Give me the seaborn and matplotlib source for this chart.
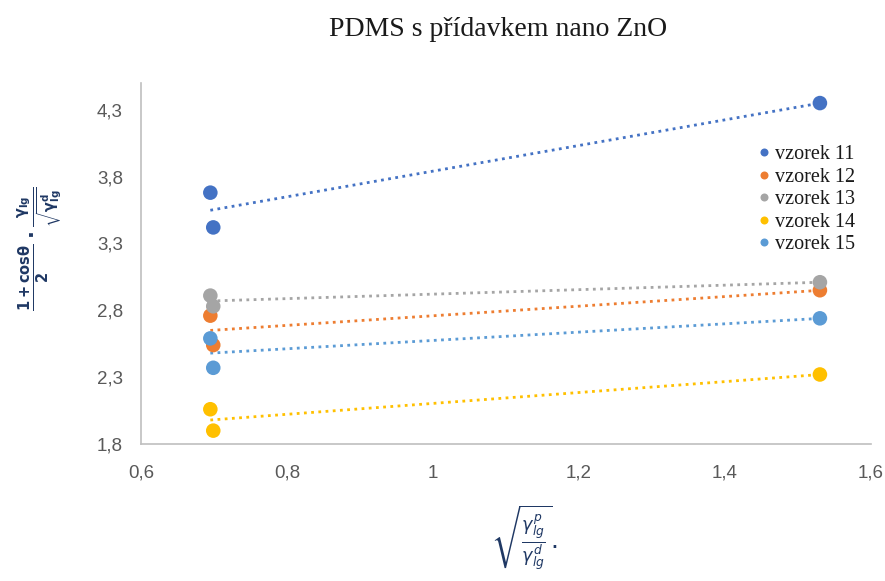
import matplotlib
matplotlib.use("Agg")
import matplotlib.pyplot as plt
import seaborn as sns
import pandas as pd
import numpy as np

# ---- data ----
samples = ["vzorek 11", "vzorek 12", "vzorek 13", "vzorek 14", "vzorek 15"]
x_vals = [0.695, 0.699, 1.530]
s11 = [3.68, 3.42, 4.35]
s12 = [2.76, 2.54, 2.95]
s13 = [2.91, 2.83, 3.01]
s14 = [2.06, 1.90, 2.32]
s15 = [2.59, 2.37, 2.74]
series = [s11, s12, s13, s14, s15]
colors = ["#4472C4", "#ED7D31", "#A5A5A5", "#FFC000", "#5B9BD5"]
x_ticks = [0.6, 0.8, 1.0, 1.2, 1.4, 1.6]
x_tick_labels = ["0,6", "0,8", "1", "1,2", "1,4", "1,6"]
y_ticks = [1.8, 2.3, 2.8, 3.3, 3.8, 4.3]
y_tick_labels = ["1,8", "2,3", "2,8", "3,3", "3,8", "4,3"]
title = "PDMS s přídavkem nano ZnO"

rows = []
for name, vals in zip(samples, series):
    for x, y in zip(x_vals, vals):
        rows.append({"x": x, "y": y, "vzorek": name})
df = pd.DataFrame(rows)

sns.set_theme(style="white")
plt.rcParams["font.family"] = ["Liberation Sans", "DejaVu Sans"]

fig = plt.figure(figsize=(8.85, 5.81), dpi=100)
ax = fig.add_axes([0.1593, 0.2358, 0.8249, 0.6213])

for name, col in zip(samples, colors):
    sub = df[df["vzorek"] == name]
    sns.regplot(data=sub, x="x", y="y", ax=ax, ci=None, truncate=True,
                scatter=False, color=col,
                line_kws={"linestyle": (0, (1, 1.6)), "linewidth": 2.0})

sns.scatterplot(data=df, x="x", y="y", hue="vzorek", palette=colors,
                hue_order=samples, s=110, edgecolor="none", ax=ax, zorder=5)

ax.set_xlim(0.6, 1.6)
ax.set_ylim(1.8, 4.5)
ax.set_xticks(x_ticks)
ax.set_xticklabels(x_tick_labels)
ax.set_yticks(y_ticks)
ax.set_yticklabels(y_tick_labels)
ax.tick_params(axis="both", colors="#595959", labelsize=13.5, length=0)
ax.tick_params(axis="y", pad=13)
ax.tick_params(axis="x", pad=15)
for lab in ax.get_xticklabels() + ax.get_yticklabels():
    lab.set_color("#595959")

for side in ["top", "right"]:
    ax.spines[side].set_visible(False)
for side in ["left", "bottom"]:
    ax.spines[side].set_color("#BFBFBF")
    ax.spines[side].set_linewidth(1.2)

ax.set_xlabel("")
ax.set_ylabel("")

fig.text(0.5627, 0.950, title, ha="center", va="center", fontsize=20,
         family="Liberation Serif", color="#1a1a1a")

fig.text(0.046, 0.572,
         r"$\mathbf{\frac{1+cos\theta}{2}\cdot\frac{\gamma_{lg}}{\sqrt{\gamma_{lg}^{d}}}}$",
         rotation=90, ha="center", va="center", fontsize=15, color="#1F3864")
fig.text(0.592, 0.075,
         r"$\sqrt{\frac{\gamma_{lg}^{p}}{\gamma_{lg}^{d}}}.$",
         ha="center", va="center", fontsize=18, color="#1F3864")

leg = ax.legend(loc="upper left", bbox_to_anchor=(0.829, 0.85), frameon=False,
                prop={"family": "Liberation Serif", "size": 14.5},
                handletextpad=0.05, labelspacing=0.17, borderaxespad=0,
                markerscale=0.55, handlelength=1.0)
for t in leg.get_texts():
    t.set_color("#1a1a1a")

fig.savefig("out.png", dpi=100, facecolor="white")
